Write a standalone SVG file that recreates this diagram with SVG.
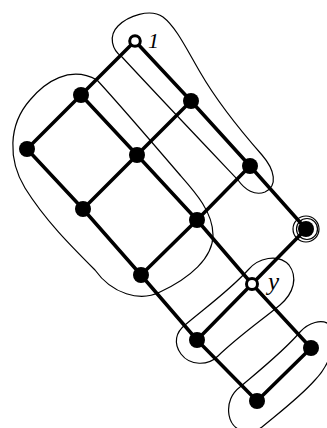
<svg xmlns="http://www.w3.org/2000/svg" width="327" height="428" viewBox="0 0 327 428">
<style>
.edge{stroke:#000;stroke-width:3.5;stroke-linecap:round;fill:none}
.blob{stroke:#000;stroke-width:1.2;fill:none}
.full{fill:#000}
.open{fill:#fff;stroke:#000;stroke-width:3}
.lbl{font-family:"Liberation Serif",serif;font-style:italic;fill:#000}
</style>
<rect width="327" height="428" fill="#fff"/>
<g id="blobs">
<path class="blob" d="M122,57 C112,50 108,36 118,26 C128,16 150,8 163,17 C176,27 186,48 200,72 C215,98 240,130 262,155 C275,170 278,186 265,192 C255,196 245,190 238,180 C200,140 160,98 122,57 Z"/>
<path class="blob" d="M97,80 C120,105 150,140 180,175 C195,192 213,212 213,235 C213,258 190,278 160,292 C140,302 112,294 95,270 C70,245 45,220 25,188 C8,160 8,125 30,100 C45,82 70,65 97,80 Z"/>
<path class="blob" d="M185,325 C205,308 230,290 248,270 C258,258 278,253 289,265 C298,277 294,293 280,305 C262,320 240,335 218,356 C208,366 190,366 181,354 C173,343 176,332 185,325 Z"/>
<path class="blob" d="M240,387 C260,370 285,350 300,332 C308,323 322,318 330,325 C340,335 330,365 315,380 C300,397 280,412 262,427 C250,436 232,432 229,415 C227,403 232,393 240,387 Z"/>
<circle class="blob" cx="306" cy="229" r="13"/>
<circle class="blob" cx="307" cy="229" r="10.5"/>
</g>
<g id="connectors">
<line class="edge" x1="135" y1="41" x2="81" y2="95"/>
<line class="edge" x1="135" y1="41" x2="191" y2="101"/>
<line class="edge" x1="81" y1="95" x2="27" y2="149"/>
<line class="edge" x1="81" y1="95" x2="137" y2="155"/>
<line class="edge" x1="191" y1="101" x2="137" y2="155"/>
<line class="edge" x1="191" y1="101" x2="250" y2="166"/>
<line class="edge" x1="27" y1="149" x2="83" y2="209"/>
<line class="edge" x1="137" y1="155" x2="83" y2="209"/>
<line class="edge" x1="137" y1="155" x2="197" y2="220"/>
<line class="edge" x1="250" y1="166" x2="197" y2="220"/>
<line class="edge" x1="250" y1="166" x2="306" y2="229"/>
<line class="edge" x1="83" y1="209" x2="141" y2="275"/>
<line class="edge" x1="197" y1="220" x2="141" y2="275"/>
<line class="edge" x1="197" y1="220" x2="252" y2="284"/>
<line class="edge" x1="306" y1="229" x2="252" y2="284"/>
<line class="edge" x1="141" y1="275" x2="197" y2="340"/>
<line class="edge" x1="252" y1="284" x2="197" y2="340"/>
<line class="edge" x1="252" y1="284" x2="311" y2="348"/>
<line class="edge" x1="197" y1="340" x2="257" y2="401"/>
<line class="edge" x1="311" y1="348" x2="257" y2="401"/>
</g>
<g id="n1"><circle class="open" cx="135" cy="41" r="5.3"/><text class="lbl" x="148" y="48" font-size="22">1</text></g>
<g id="nA"><circle class="full" cx="81" cy="95" r="8"/></g>
<g id="nB"><circle class="full" cx="191" cy="101" r="8"/></g>
<g id="nC"><circle class="full" cx="27" cy="149" r="8"/></g>
<g id="nD"><circle class="full" cx="137" cy="155" r="8"/></g>
<g id="nE"><circle class="full" cx="250" cy="166" r="8"/></g>
<g id="nF"><circle class="full" cx="83" cy="209" r="8"/></g>
<g id="nG"><circle class="full" cx="197" cy="220" r="8"/></g>
<g id="nH"><circle class="full" cx="306" cy="229" r="8"/></g>
<g id="nI"><circle class="full" cx="141" cy="275" r="8"/></g>
<g id="ny"><circle class="open" cx="252" cy="284" r="5.5"/><text class="lbl" x="268" y="290" font-size="25">y</text></g>
<g id="nJ"><circle class="full" cx="197" cy="340" r="8"/></g>
<g id="nK"><circle class="full" cx="311" cy="348" r="8"/></g>
<g id="nL"><circle class="full" cx="257" cy="401" r="8"/></g>
</svg>
